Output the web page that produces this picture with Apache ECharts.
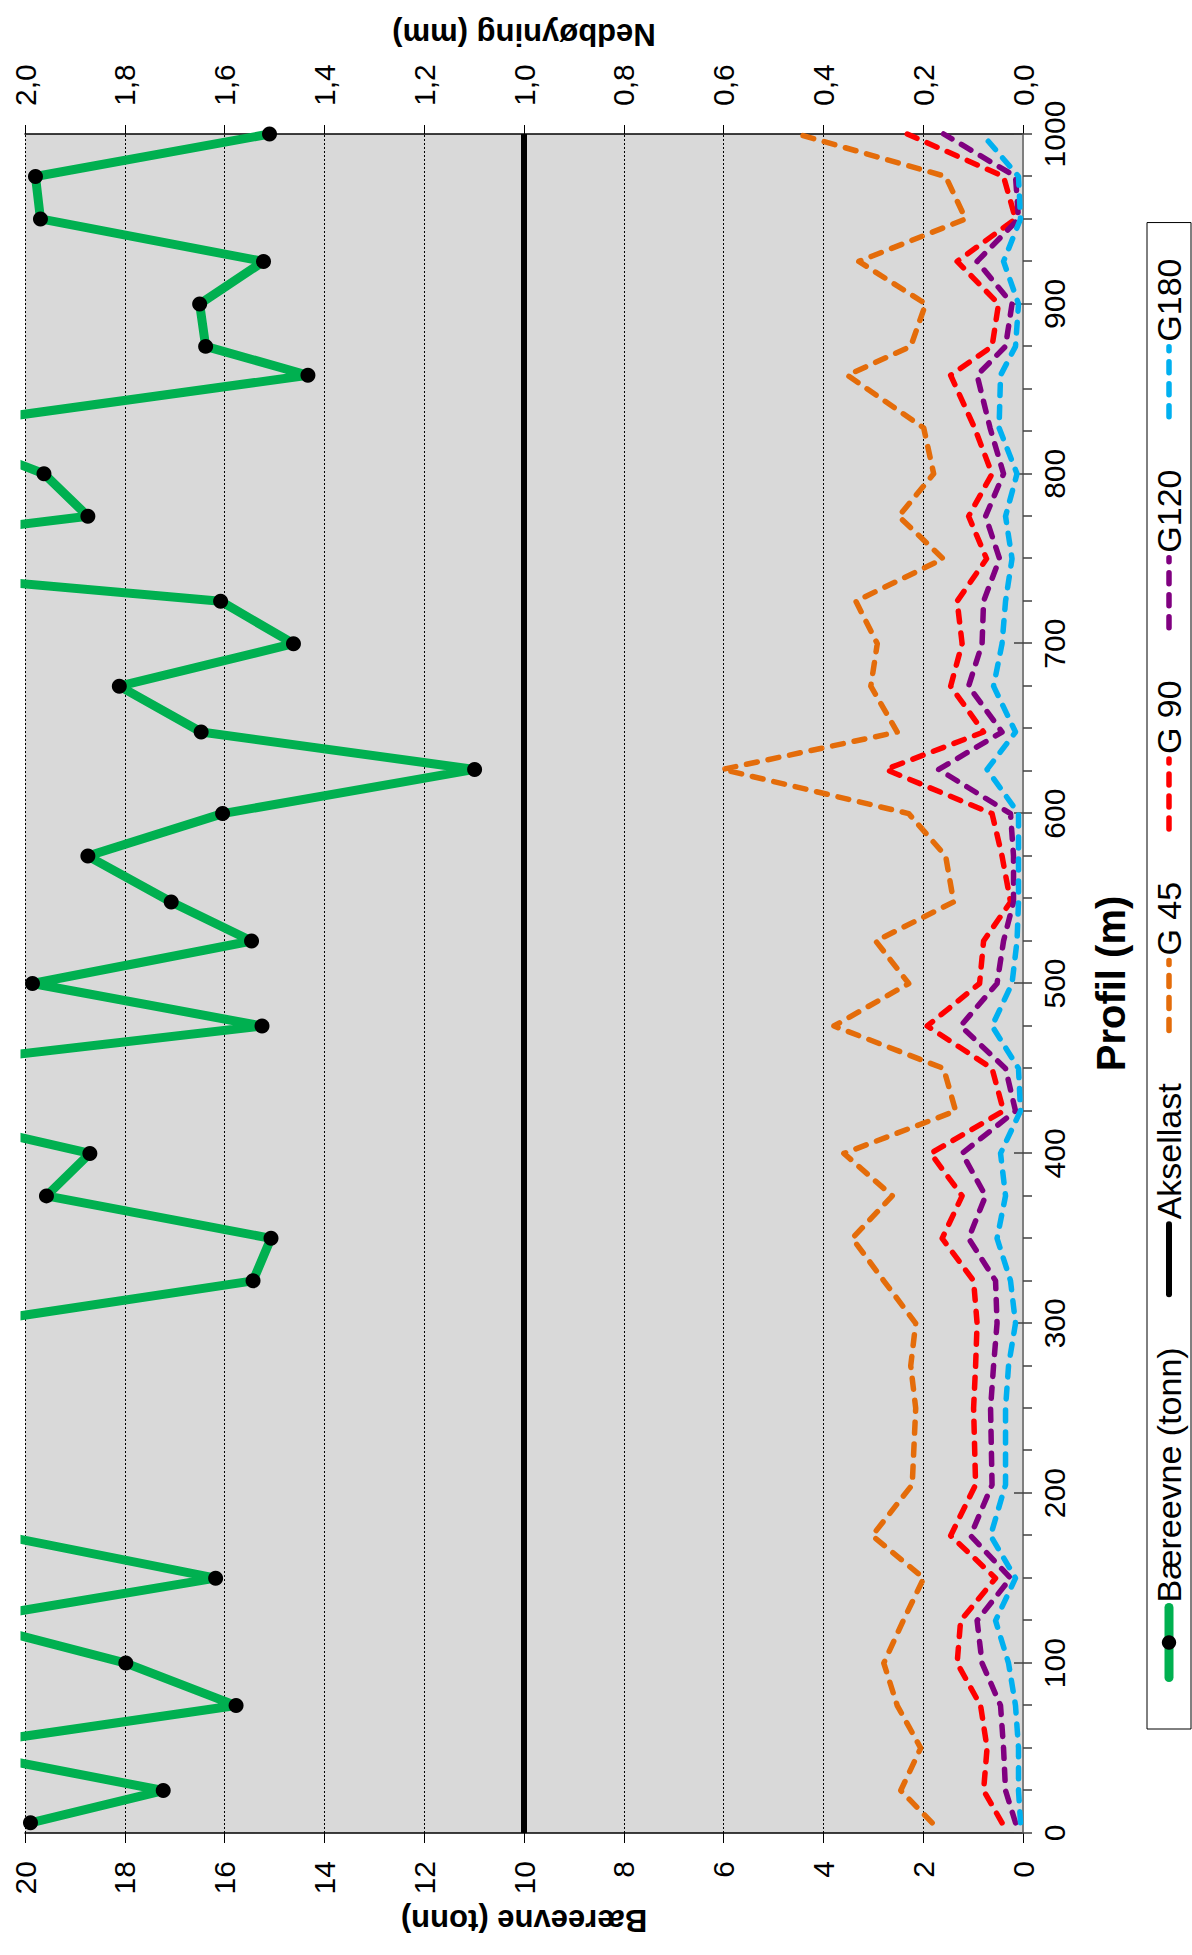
<!DOCTYPE html>
<html>
<head>
<meta charset="utf-8">
<title>Bæreevne og nedbøyning langs profil</title>
<script src="https://cdn.jsdelivr.net/npm/echarts@6/dist/echarts.min.js"></script>
<style>
  html, body { margin: 0; padding: 0; background: #fff; overflow: hidden; width: 1192px; height: 1955px; }
  /* The chart is laid out landscape and turned a quarter turn counter-clockwise onto the portrait page. */
  #chart {
    position: absolute; left: 0; top: 0;
    width: 1955px; height: 1192px;
    transform-origin: 0 0;
    transform: translate(0, 1955px) rotate(-90deg);
  }
</style>
</head>
<body>
<div id="chart"></div>
<script>
// Measurement positions along the profile (m)
const profil = [6, 25, 50, 75, 100, 125, 150, 175, 205, 250, 275, 300, 325, 350, 375, 400, 425, 450, 475, 500,
                525, 548, 575, 600, 626, 648, 675, 700, 725, 750, 775, 800, 827, 858, 875, 900, 925, 950, 975, 1000];

// Bearing capacity (tonn); null where the value lies above the plotted range and is not known
const baereevne = [19.89, 17.23, 21.64, 15.77, 17.98, 21.26, 16.18, 20.46, null, null, null, 21.09, 15.43, 15.07, 19.57, 18.70, 22.4, 22.58, 15.25, 19.85,
                   15.46, 17.07, 18.74, 16.04, 10.99, 16.47, 18.11, 14.62, 16.08, 25.7, 18.74, 19.62, 22.0, 14.33, 16.38, 16.50, 15.22, 19.69, 19.79, 15.10];

// Axle load reference (tonn)
const aksellast = 10;

// Deflections (mm) for each geophone
const g45  = [0.182, 0.245, 0.205, 0.252, 0.279, 0.240, 0.199, 0.302, 0.222, 0.215, 0.225, 0.215, 0.279, 0.342, 0.262, 0.359, 0.135, 0.159, 0.379, 0.229,
              0.295, 0.139, 0.155, 0.229, 0.602, 0.252, 0.305, 0.292, 0.335, 0.160, 0.249, 0.179, 0.199, 0.352, 0.225, 0.195, 0.329, 0.115, 0.155, 0.452];
const g90  = [0.042, 0.079, 0.072, 0.085, 0.132, 0.125, 0.055, 0.145, 0.095, 0.099, 0.095, 0.092, 0.099, 0.162, 0.122, 0.185, 0.039, 0.062, 0.192, 0.087,
              0.079, 0.025, 0.042, 0.062, 0.275, 0.079, 0.145, 0.122, 0.132, 0.073, 0.109, 0.062, 0.097, 0.145, 0.062, 0.049, 0.132, 0.015, 0.039, 0.232];
const g120 = [0.015, 0.035, 0.039, 0.045, 0.082, 0.092, 0.025, 0.105, 0.062, 0.065, 0.059, 0.052, 0.055, 0.109, 0.075, 0.122, 0.015, 0.035, 0.125, 0.052,
              0.039, 0.019, 0.019, 0.025, 0.169, 0.042, 0.109, 0.082, 0.079, 0.047, 0.075, 0.039, 0.066, 0.092, 0.035, 0.022, 0.092, 0.009, 0.015, 0.159];
const g180 = [0.005, 0.009, 0.009, 0.015, 0.029, 0.055, 0.015, 0.065, 0.035, 0.035, 0.029, 0.015, 0.025, 0.052, 0.035, 0.045, 0.005, 0.009, 0.062, 0.022,
              0.012, 0.009, 0.009, 0.009, 0.072, 0.015, 0.059, 0.042, 0.035, 0.022, 0.035, 0.012, 0.048, 0.045, 0.015, 0.009, 0.039, 0.005, 0.009, 0.082];

// Axis ranges
const profilRange = [0, 1000, 100];
const tonnRange = [0, 20, 2];
const mmRange = [0, 2, 0.2];

const FONT = '"Liberation Sans", Arial, Helvetica, sans-serif';
const pairs = arr => profil.map((p, i) => [p, arr[i]]);

const dashStyle = color => ({ color: color, width: 5.5, type: [11, 11], cap: 'round', join: 'round' });

// legend entries: only the bearing-capacity line carries a marker
const noMarker = name => ({ name: name, itemStyle: { opacity: 0 } });

const chart = echarts.init(document.getElementById('chart'), null, { renderer: 'svg', width: 1955, height: 1192 });

chart.setOption({
  animation: false,
  backgroundColor: '#ffffff',
  textStyle: { fontFamily: FONT, color: '#000' },
  grid: {
    left: 122, right: 134, top: 25, bottom: 169,
    show: true, backgroundColor: '#D9D9D9', borderWidth: 0
  },
  legend: {
    left: 226, top: 1147,
    orient: 'horizontal',
    padding: [5, 36, 5, 47],
    itemGap: 50,
    itemWidth: 70,
    itemHeight: 18,
    borderColor: '#000',
    borderWidth: 1,
    lineStyle: { width: 'inherit', type: 'inherit', cap: 'round' },
    textStyle: { fontFamily: FONT, fontSize: 34, color: '#000' },
    data: [
      { name: 'Bæreevne (tonn)' },
      noMarker('Aksellast'),
      noMarker('G 45'),
      noMarker('G 90'),
      noMarker('G120'),
      noMarker('G180')
    ]
  },
  xAxis: [{
    type: 'value',
    min: profilRange[0], max: profilRange[1], interval: profilRange[2],
    position: 'bottom',
    name: 'Profil (m)',
    nameLocation: 'middle',
    nameGap: 68,
    nameTextStyle: { fontFamily: FONT, fontSize: 40, fontWeight: 'bold', color: '#000' },
    axisLine: { show: true, onZero: false, lineStyle: { color: '#7f7f7f', width: 2 } },
    axisTick: { show: true, length: 9, lineStyle: { color: '#404040', width: 1.5 } },
    minorTick: { show: true, splitNumber: 4, length: 9, lineStyle: { color: '#404040', width: 1.5 } },
    axisLabel: { fontFamily: FONT, fontSize: 30, color: '#000', margin: 16, formatter: v => String(v) },
    splitLine: { show: false }
  }, {
    // inner half of the major ticks
    type: 'value',
    min: profilRange[0], max: profilRange[1], interval: profilRange[2],
    position: 'bottom',
    axisLine: { show: false, onZero: false },
    axisTick: { show: true, inside: true, length: 9, lineStyle: { color: '#404040', width: 1.5 } },
    axisLabel: { show: false },
    splitLine: { show: false }
  }],
  yAxis: [{
    type: 'value',
    min: tonnRange[0], max: tonnRange[1], interval: tonnRange[2],
    position: 'left',
    name: 'Bæreevne (tonn)',
    nameLocation: 'middle',
    nameRotate: 90,
    nameGap: 72,
    nameTextStyle: { fontFamily: FONT, fontSize: 31, fontWeight: 'bold', color: '#000' },
    axisLine: { show: true, onZero: false, lineStyle: { color: '#000', width: 1.5 } },
    axisTick: { show: true, length: 10, lineStyle: { color: '#000', width: 1 } },
    axisLabel: { fontFamily: FONT, fontSize: 30, color: '#000', margin: 28, formatter: v => String(v) },
    splitLine: { show: true, lineStyle: { color: '#000', width: 1, type: [2, 2] } }
  }, {
    type: 'value',
    min: mmRange[0], max: mmRange[1], interval: mmRange[2],
    position: 'right',
    name: 'Nedbøyning (mm)',
    nameLocation: 'middle',
    nameRotate: 90,
    nameGap: 84,
    nameTextStyle: { fontFamily: FONT, fontSize: 31, fontWeight: 'bold', color: '#000' },
    axisLine: { show: true, onZero: false, lineStyle: { color: '#000', width: 1.5 } },
    axisTick: { show: true, length: 9, lineStyle: { color: '#000', width: 1 } },
    axisLabel: {
      fontFamily: FONT, fontSize: 30, color: '#000', margin: 28,
      formatter: v => v.toFixed(1).replace('.', ',')
    },
    splitLine: { show: false }
  }],
  series: [
    {
      name: 'G 45', type: 'line', xAxisIndex: 0, yAxisIndex: 1,
      data: pairs(g45), symbol: 'none', clip: true,
      lineStyle: dashStyle('#E46C0A'), itemStyle: { color: '#E46C0A' }, z: 3
    },
    {
      name: 'G 90', type: 'line', xAxisIndex: 0, yAxisIndex: 1,
      data: pairs(g90), symbol: 'none', clip: true,
      lineStyle: dashStyle('#FF0000'), itemStyle: { color: '#FF0000' }, z: 3
    },
    {
      name: 'G120', type: 'line', xAxisIndex: 0, yAxisIndex: 1,
      data: pairs(g120), symbol: 'none', clip: true,
      lineStyle: dashStyle('#800080'), itemStyle: { color: '#800080' }, z: 3
    },
    {
      name: 'G180', type: 'line', xAxisIndex: 0, yAxisIndex: 1,
      data: pairs(g180), symbol: 'none', clip: true,
      lineStyle: dashStyle('#00B0F0'), itemStyle: { color: '#00B0F0' }, z: 3
    },
    {
      name: 'Aksellast', type: 'line', xAxisIndex: 0, yAxisIndex: 0,
      data: [[profilRange[0], aksellast], [profilRange[1], aksellast]],
      symbol: 'none', clip: true,
      lineStyle: { color: '#000', width: 6 }, itemStyle: { color: '#000' }, z: 4
    },
    {
      name: 'Bæreevne (tonn)', type: 'line', xAxisIndex: 0, yAxisIndex: 0,
      data: pairs(baereevne), connectNulls: false,
      symbol: 'circle', symbolSize: 15, clip: true,
      lineStyle: { color: '#00B050', width: 9, join: 'round' },
      itemStyle: { color: '#000', borderWidth: 0 }, z: 5
    }
  ]
});
</script>
</body>
</html>
